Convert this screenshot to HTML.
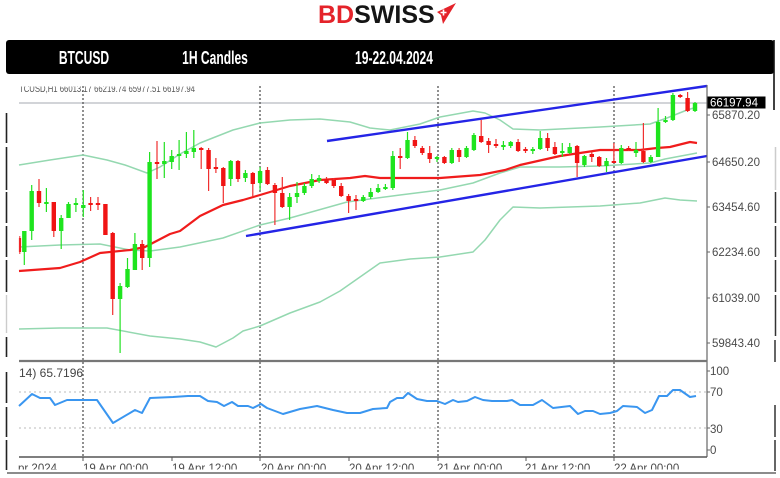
<!DOCTYPE html>
<html><head><meta charset="utf-8"><style>
html,body{margin:0;padding:0;background:#fff;}
svg{display:block;}
text{font-family:"Liberation Sans",Arial,sans-serif;}
</style></head><body>
<svg width="780" height="478" viewBox="0 0 780 478" xmlns="http://www.w3.org/2000/svg">
<defs>
<clipPath id="topclip"><rect x="0" y="86.5" width="780" height="20"/></clipPath>
<clipPath id="botclip"><rect x="0" y="458" width="780" height="11.5"/></clipPath>
</defs>
<rect width="780" height="478" fill="#fff"/>

<!-- Logo -->
<text x="318" y="23" font-size="25" font-weight="bold" fill="#e4232a">BD<tspan fill="#151515">SWISS</tspan></text>
<polygon points="437,12 456,3 443,24 441,15" fill="#e4232a"/>
<path d="M443.5 9.5V15.5M440.5 12.5H446.5" stroke="#fff" stroke-width="1.6"/>

<!-- Header bar -->
<rect x="6" y="40" width="768" height="34" rx="3" fill="#000"/>
<g fill="#fff" font-weight="bold" font-size="18.6" text-anchor="middle">
<text transform="translate(84,64) scale(0.65,1)">BTCUSD</text>
<text transform="translate(215,64) scale(0.65,1)">1H Candles</text>
<text transform="translate(394,64) scale(0.65,1)">19-22.04.2024</text>
</g>

<!-- Frame pieces -->
<path d="M774 40V110" stroke="#111" stroke-width="1.6"/>
<path d="M775.5 147V190" stroke="#ccc" stroke-width="1.5"/>
<path d="M775.5 192V223M775.5 226V257M775.5 260V292M775.5 295V336M775 340V362M775 405V437M775 440V471" stroke="#333" stroke-width="1.5"/>
<path d="M6.5 113V143M6.5 147V190M6.5 192V223M6.5 226V257M6.5 260V292M6.5 337V357M6.5 372V403M6.5 407V437M6.5 440V470" stroke="#222" stroke-width="1.6"/>
<path d="M6.5 295V333" stroke="#ccc" stroke-width="1.4"/>

<!-- top info text -->
<text x="19" y="92" font-size="10" fill="#555" clip-path="url(#topclip)" textLength="176" lengthAdjust="spacingAndGlyphs">TCUSD,H1 66013.17 66219.74 65977.51 66197.94</text>

<!-- price line -->
<path d="M19 103H707" stroke="#c4c6cc" stroke-width="1.6"/>

<!-- vertical dotted grid -->
<path d="M83 86V457M260 86V457M438 86V457M614 86V457" stroke="#555" stroke-width="1.3" stroke-dasharray="2,2"/>

<!-- RSI levels -->
<path d="M19 392H707M19 428H707" stroke="#bbb" stroke-width="1" stroke-dasharray="2,3"/>

<!-- Bollinger bands -->
<g fill="none" stroke="#94d8b0" stroke-width="1.5" stroke-linejoin="round">
<polyline points="19,165 50,160 83,155 107,160 125,165 147,173 160,167 180,154 200,143 233,130 260,123 290,120 320,119 350,122 370,128 390,130 420,124 440,117 473,111 485,113 500,120 513,129 540,130 580,128 600,127 650,124 667,118 687,110 697,107"/>
<polyline points="19,247 60,245 100,244 130,250 150,251 180,247 223,238 260,225 290,218 347,202 400,195 440,190 473,183 500,173 520,167 560,167 600,166 650,163 665,159 697,153"/>
<polyline points="19,329 60,328 107,328 150,336 180,339 200,342 216,347 233,338 243,331 260,326 290,313 320,302 340,291 360,277 380,263 410,259 440,257 473,252 485,240 500,220 513,207 540,208 600,206 640,203 665,198 680,200 697,201"/>
</g>

<!-- Red MA -->
<polyline fill="none" stroke="#f01c1c" stroke-width="2.2" stroke-linejoin="round" points="19,271 60,268 80,262 100,253 130,250 145,247 170,234 180,231 200,216 223,205 243,200 260,195 290,186 320,180 350,178 365,176 380,178 440,178 480,175 505,170 520,165 560,156 600,150 640,150 657,148 670,147 690,142 697,143"/>

<!-- Blue channel -->
<path d="M327 141L707 86M246 236L707 156" stroke="#2424e6" stroke-width="2.4"/>

<!-- Candles -->
<path fill="none" stroke="#22e022" stroke-width="1.2" d="M24.3 231V265 M31.7 185V240 M46.4 188V212 M61.2 215V249 M68.5 202V218 M75.9 198V212 M83.3 190V217 M120.1 283V353 M127.5 258V288 M134.9 233V270 M149.6 152V267 M164.3 142V178 M171.7 150V169 M179.1 140V170 M186.4 132V158 M193.8 130V158 M230.7 160V186 M245.4 170V182 M260.1 167V190 M289.6 193V220 M297 182V203 M304.4 183V195 M311.7 174V188 M319.1 175V183 M363.3 195V202 M370.7 188V199 M378.1 184V193 M385.4 184V190 M392.8 151V190 M407.5 132V159 M437 156V162 M451.8 148V164 M466.5 146V158 M473.9 133V151 M503.4 141V150 M510.7 141V148 M532.8 147V154 M540.2 131V150 M562.3 143V157 M569.7 143V154 M584.4 155V167 M606.5 158V172 M621.3 145V164 M636 142V157 M650.8 155V163 M658.1 108V157 M665.5 116V123 M672.9 93V121 M695 102V112"/>
<path fill="none" stroke="#1ee41e" stroke-width="4.4" d="M24.3 231V252 M31.7 191V231 M46.4 202V204 M61.2 218V231 M68.5 204V218 M75.9 203V205 M83.3 205V208 M120.1 286V299 M127.5 269V287 M134.9 244V270 M149.6 162V258 M164.3 161V164 M171.7 156V162 M179.1 154V156 M186.4 151V154 M193.8 148V152 M230.7 161V179 M245.4 173V178 M260.1 171V183 M289.6 197V207 M297 193V197 M304.4 186V193 M311.7 179V186 M319.1 178V181 M363.3 197V201 M370.7 192V197 M378.1 188V192 M385.4 187V189 M392.8 156V188 M407.5 140V158 M437 157V159 M451.8 150V163 M466.5 148V157 M473.9 135V150 M503.4 145V147 M510.7 142V146 M532.8 149V151 M540.2 138V149 M562.3 151V153 M569.7 147V153 M584.4 156V165 M606.5 161V166 M621.3 148V163 M636 150V153 M650.8 157V162 M658.1 122V157 M665.5 120V122 M672.9 95V120 M695 103V111"/>
<path fill="none" stroke="#f03030" stroke-width="1.2" d="M39 179V207 M53.8 202V237 M90.6 197V211 M98 197V210 M105.4 204V235 M112.7 232V315 M142.2 240V270 M157 141V179 M201.2 147V169 M208.6 148V191 M215.9 158V173 M223.3 167V203 M238 160V182 M252.8 172V197 M267.5 167V185 M274.9 183V225 M282.3 177V208 M326.5 177V184 M333.8 178V188 M341.2 183V197 M348.6 194V213 M356 195V210 M400.2 148V169 M414.9 136V148 M422.3 146V155 M429.7 146V163 M444.4 156V164 M459.1 148V162 M481.2 120V143 M488.6 138V153 M496 139V148 M518.1 139V152 M525.5 147V153 M547.6 133V151 M554.9 142V155 M577.1 145V177 M591.8 152V162 M599.2 156V167 M613.9 143V163 M628.6 146V151 M643.4 123V163 M680.2 94V98 M687.6 92V112"/>
<path fill="none" stroke="#f01414" stroke-width="4.4" d="M39 191V203 M53.8 202V231 M90.6 203V205 M98 203V205 M105.4 204V235 M112.7 233V299 M142.2 244V258 M157 162V164 M201.2 148V150 M208.6 150V169 M215.9 167V169 M223.3 168V186 M238 161V179 M252.8 173V184 M267.5 170V184 M274.9 185V193 M282.3 193V207 M326.5 179V183 M333.8 180V186 M341.2 186V196 M348.6 196V201 M356 199V201 M400.2 156V158 M414.9 140V146 M422.3 148V153 M429.7 153V159 M444.4 157V163 M459.1 150V157 M481.2 136V142 M488.6 141V145 M496 144V146 M518.1 142V151 M525.5 149V151 M547.6 138V148 M554.9 147V154 M577.1 146V163 M591.8 154V157 M599.2 157V166 M613.9 161V163 M628.6 148V150 M643.4 151V162 M680.2 95V97 M687.6 98V111"/>
<path d="M20 238V252" stroke="#f01414" stroke-width="2.2"/>
<path d="M19.8 236V254" stroke="#f03030" stroke-width="1"/>

<!-- axes -->
<path d="M707 85V457" stroke="#666" stroke-width="1.2"/>
<path d="M19 361H707" stroke="#777" stroke-width="2.2"/>
<path d="M19 457H707" stroke="#555" stroke-width="1.5"/>
<path d="M707 115H710M707 162H710M707 207H710M707 252H710M707 298H710M707 343H710M707 371H710M707 392H710M707 428H710M707 450H710" stroke="#666" stroke-width="1"/>
<path d="M83 457V461M172 457V461M260 457V461M349 457V461M438 457V461M526 457V461M614 457V461" stroke="#555" stroke-width="1"/>

<!-- price labels -->
<g font-size="11.5" fill="#4a4a4a">
<text x="712" y="119">65870.20</text>
<text x="712" y="166">64650.20</text>
<text x="712" y="211">63454.60</text>
<text x="712" y="256">62234.60</text>
<text x="712" y="302">61039.00</text>
<text x="712" y="347">59843.40</text>
<text x="710" y="375">100</text>
<text x="710" y="396">70</text>
<text x="710" y="433">30</text>
<text x="710" y="454">0</text>
</g>
<rect x="707.5" y="96.5" width="58" height="12" fill="#000"/>
<text x="710" y="106.5" font-size="11.5" fill="#fff">66197.94</text>

<!-- RSI -->
<text x="19" y="377" font-size="12" fill="#444">14) 65.7196</text>
<polyline fill="none" stroke="#3a96f0" stroke-width="2" stroke-linejoin="round" points="19,406 32,394 40,398 50,398 55,405 67,400 97,400 113,423 135,410 142,413 150,398 173,397 188,396 200,396 208,401 217,402 224,406 232,402 238,406 248,406 253,408 261,404 267,408 283,414 300,409 317,406 333,410 347,413 360,413 373,409 387,408 390,402 397,398 403,398 408,393 417,399 427,401 437,401 445,404 453,400 458,402 467,401 475,397 483,400 492,401 507,401 512,400 520,405 533,405 542,400 553,408 570,406 578,414 585,411 593,411 600,414 610,413 617,411 623,406 637,407 645,413 652,410 659,396 667,396 673,390 680,390 690,397 696,396"/>

<!-- time labels -->
<g font-size="11.5" fill="#4a4a4a" clip-path="url(#botclip)">
<text x="18" y="472">pr 2024</text>
<text x="83" y="472">19 Apr 00:00</text>
<text x="172" y="472">19 Apr 12:00</text>
<text x="261" y="472">20 Apr 00:00</text>
<text x="349" y="472">20 Apr 12:00</text>
<text x="437" y="472">21 Apr 00:00</text>
<text x="525" y="472">21 Apr 12:00</text>
<text x="614" y="472">22 Apr 00:00</text>
</g>

<!-- bottom frame -->
<path d="M7 473H776" stroke="#666" stroke-width="1.6"/>
</svg>
</body></html>
